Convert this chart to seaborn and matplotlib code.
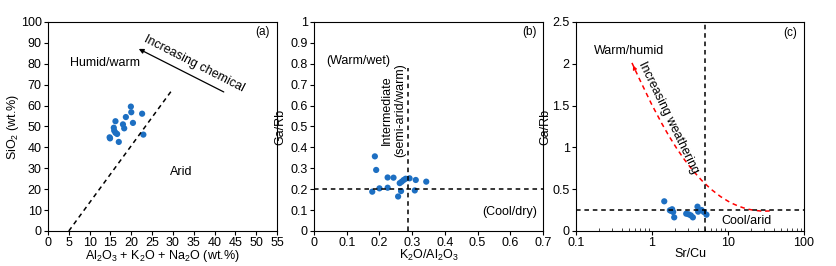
import numpy as np
import pandas as pd
import matplotlib
matplotlib.use("Agg")
import matplotlib.pyplot as plt
from matplotlib.path import Path
from matplotlib.patches import PathPatch
import seaborn as sns

# --------------------------
# Data
# --------------------------
# (a) SiO2 vs Al2O3 + K2O + Na2O
a_x = [14.9, 14.8, 16.2, 15.8, 15.9, 16.2, 16.6, 17.0, 18.0, 18.3, 18.7, 19.9, 20.0, 20.4, 22.6, 22.9]
a_y = [44.3, 44.8, 52.5, 49.4, 48.0, 47.0, 46.4, 42.6, 51.0, 49.1, 54.5, 59.5, 56.8, 51.7, 56.1, 46.1]
a_line_x = [5, 30]
a_line_y = [0, 68]

# (b) Ga/Rb vs K2O/Al2O3
b_x = [0.186, 0.190, 0.178, 0.200, 0.225, 0.243, 0.225, 0.257, 0.266, 0.262, 0.268,
       0.274, 0.280, 0.292, 0.311, 0.308, 0.343]
b_y = [0.357, 0.292, 0.188, 0.204, 0.256, 0.255, 0.207, 0.165, 0.191, 0.229, 0.236,
       0.244, 0.250, 0.252, 0.244, 0.194, 0.236]
b_hline = 0.2
b_vline = 0.288

# (c) Ga/Rb vs Sr/Cu
c_x = [1.45, 1.72, 1.84, 1.90, 1.96, 2.82, 3.03, 3.24, 3.45, 3.97, 4.05, 4.48, 4.81, 5.21, 1.80]
c_y = [0.355, 0.247, 0.26, 0.227, 0.163, 0.207, 0.20, 0.187, 0.163, 0.291, 0.231, 0.251, 0.227, 0.195, 0.24]
c_hline = 0.25
c_vline = 5
# guide curve "Increasing weathering" (bezier control points)
c_curve_x = [35.4, 4.95, 1.48, 0.545]
c_curve_y = [0.24, 0.19, 1.15, 2.01]

dot = "#1d6fc2"
fs = 9

sns.set_style("ticks")
plt.rcParams['font.family'] = ['Liberation Sans', 'DejaVu Sans']
plt.rcParams['mathtext.default'] = 'regular'
plt.rcParams['font.size'] = fs
plt.rcParams['text.color'] = 'black'
plt.rcParams['axes.labelcolor'] = 'black'
plt.rcParams['axes.linewidth'] = 0.8
plt.rcParams['xtick.major.size'] = 3
plt.rcParams['ytick.major.size'] = 3
plt.rcParams['xtick.major.width'] = 0.8
plt.rcParams['ytick.major.width'] = 0.8

fig = plt.figure(figsize=(8.36, 2.66), dpi=100)
ax1 = fig.add_axes([0.0574, 0.1316, 0.274, 0.786])
ax2 = fig.add_axes([0.3756, 0.1316, 0.274, 0.786])
ax3 = fig.add_axes([0.689, 0.1316, 0.2727, 0.786])

for ax in (ax1, ax2, ax3):
    for s in ax.spines.values():
        s.set_visible(True)
        s.set_color("black")
    ax.tick_params(labelsize=fs, colors="black", pad=1.5)

dash = (0, (3, 2.5))

# --------------------------
# (a)
# --------------------------
df_a = pd.DataFrame({"x": a_x, "y": a_y})
sns.scatterplot(data=df_a, x="x", y="y", ax=ax1, color=dot, s=20, edgecolor="none")
ax1.plot(a_line_x, a_line_y, color="black", ls=dash, lw=1.1)
ax1.set_xlim(0, 55)
ax1.set_ylim(0, 100)
ax1.set_xticks(np.arange(0, 56, 5))
ax1.set_yticks(np.arange(0, 101, 10))
ax1.set_xlabel(r"Al$_2$O$_3$ + K$_2$O + Na$_2$O (wt.%)", fontsize=fs, labelpad=-1)
ax1.set_ylabel(r"SiO$_2$ (wt.%)", fontsize=fs, labelpad=0)
ax1.annotate("", xy=(21.2, 87.7), xytext=(42.8, 65.9),
             arrowprops=dict(arrowstyle="-|>", color="black", lw=0.9, mutation_scale=7))
ax1.text(35.2, 79.8, "Increasing chemical", rotation=-27, ha="center", va="center", fontsize=fs)
ax1.text(13.8, 80.2, "Humid/warm", ha="center", va="center", fontsize=fs)
ax1.text(32.1, 28.4, "Arid", ha="center", va="center", fontsize=fs)
ax1.text(51.5, 95, "(a)", ha="center", va="center", fontsize=8.5)

# --------------------------
# (b)
# --------------------------
df_b = pd.DataFrame({"x": b_x, "y": b_y})
sns.scatterplot(data=df_b, x="x", y="y", ax=ax2, color=dot, s=20, edgecolor="none")
ax2.axhline(b_hline, color="black", ls=dash, lw=1.1)
ax2.plot([b_vline, b_vline], [0, 0.78], color="black", ls=dash, lw=1.1)
ax2.set_xlim(0, 0.7)
ax2.set_ylim(0, 1)
ax2.set_xticks(np.arange(0, 0.71, 0.1))
ax2.set_yticks(np.arange(0, 1.01, 0.1))
ax2.set_xticklabels(["0", "0.1", "0.2", "0.3", "0.4", "0.5", "0.6", "0.7"])
ax2.set_yticklabels(["0", "0.1", "0.2", "0.3", "0.4", "0.5", "0.6", "0.7", "0.8", "0.9", "1"])
ax2.set_xlabel(r"K$_2$O/Al$_2$O$_3$", fontsize=fs, labelpad=-1)
ax2.set_ylabel("Ga/Rb", fontsize=fs, labelpad=3)
ax2.text(0.135, 0.814, "(Warm/wet)", ha="center", va="center", fontsize=fs)
ax2.text(0.243, 0.577, "Intermediate\n(semi-arid/warm)", rotation=90, ha="center", va="center",
         fontsize=fs, linespacing=1.1)
ax2.text(0.597, 0.093, "(Cool/dry)", ha="center", va="center", fontsize=fs)
ax2.text(0.658, 0.95, "(b)", ha="center", va="center", fontsize=8.5)

# --------------------------
# (c)
# --------------------------
df_c = pd.DataFrame({"x": c_x, "y": c_y})
sns.scatterplot(data=df_c, x="x", y="y", ax=ax3, color=dot, s=20, edgecolor="none")
ax3.set_xscale("log")
ax3.axhline(c_hline, color="black", ls=dash, lw=1.1)
ax3.axvline(c_vline, color="black", ls=dash, lw=1.1)
ax3.set_xlim(0.1, 100)
ax3.set_ylim(0, 2.5)
ax3.set_xticks([0.1, 1, 10, 100])
ax3.set_xticklabels(["0.1", "1", "10", "100"])
ax3.set_yticks([0, 0.5, 1, 1.5, 2, 2.5])
ax3.set_yticklabels(["0", "0.5", "1", "1.5", "2", "2.5"])
ax3.tick_params(axis="x", which="minor", direction="in", length=2, width=0.6)
ax3.set_xlabel("Sr/Cu", fontsize=fs, labelpad=-1)
ax3.set_ylabel("Ga/Rb", fontsize=fs, labelpad=1)

verts = list(zip(c_curve_x, c_curve_y))
curve = Path(verts, [Path.MOVETO, Path.CURVE4, Path.CURVE4, Path.CURVE4])
ax3.add_patch(PathPatch(curve, facecolor="none", edgecolor="red", ls=dash, lw=1.1))
ax3.annotate("", xy=(c_curve_x[-1], c_curve_y[-1]), xytext=(0.596, 1.93),
             arrowprops=dict(arrowstyle="-|>", color="red", lw=0.8, mutation_scale=6))
ax3.text(1.66, 1.36, "Increasing weathering", rotation=-64, ha="center", va="center", fontsize=fs)
ax3.text(0.50, 2.15, "Warm/humid", ha="center", va="center", fontsize=fs)
ax3.text(17.7, 0.12, "Cool/arid", ha="center", va="center", fontsize=fs)
ax3.text(66.8, 2.37, "(c)", ha="center", va="center", fontsize=8.5)

fig.savefig("out.png", dpi=100)
plt.close(fig)
